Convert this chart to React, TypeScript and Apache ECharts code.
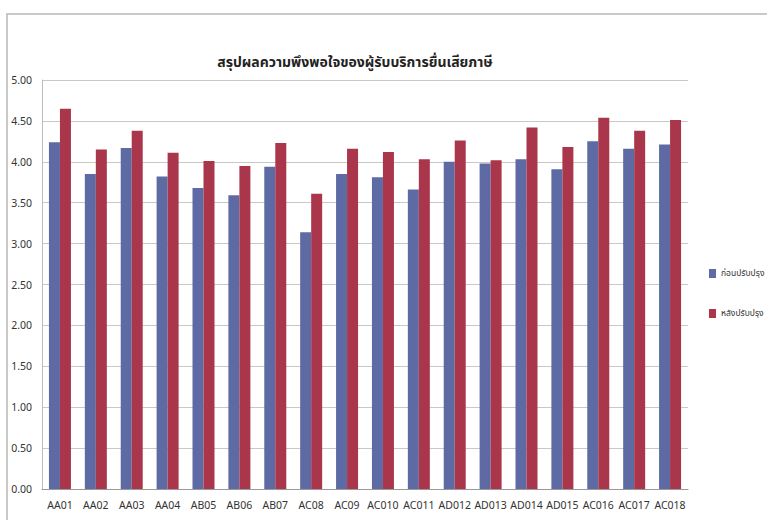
import React, { useEffect, useRef } from "react";
import * as echarts from "echarts";

const categories = ["AA01","AA02","AA03","AA04","AB05","AB06","AB07","AC08","AC09","AC010","AC011","AD012","AD013","AD014","AD015","AC016","AC017","AC018"];
const before = [4.24,3.85,4.17,3.82,3.68,3.59,3.94,3.14,3.85,3.81,3.66,4.00,3.98,4.03,3.91,4.25,4.16,4.21];
const after = [4.65,4.15,4.38,4.11,4.01,3.95,4.23,3.61,4.16,4.12,4.03,4.26,4.02,4.42,4.18,4.54,4.38,4.51];
const seriesNames = ["ก่อนปรับปรุง", "หลังปรับปรุง"];
const title = "สรุปผลความพึงพอใจของผู้รับบริการยื่นเสียภาษี";

const narrow = "'Liberation Sans Narrow', 'Arial Narrow', 'Noto Sans', sans-serif";

export default function App() {
  const ref = useRef<HTMLDivElement>(null);
  useEffect(() => {
    if (!ref.current) return;
    const chart = echarts.init(ref.current, null, { renderer: "svg" });
    chart.setOption({
      animation: false,
      backgroundColor: "#ffffff",
      title: {
        text: title,
        left: 350,
        top: 50,
        textAlign: "center",
        textStyle: { fontSize: 14, fontWeight: "bold", color: "#222", fontFamily: "'Noto Sans Thai', 'Noto Sans', sans-serif" },
      },
      graphic: [
        {
          type: "rect",
          shape: { x: 7, y: 14, width: 800, height: 560 },
          style: { fill: "none", stroke: "#b8b8b8", lineWidth: 1.5 },
          silent: true,
        },
      ],
      legend: {
        orient: "vertical",
        left: 704,
        top: 264,
        itemWidth: 7,
        itemHeight: 9,
        itemGap: 31,
        itemStyle: { borderWidth: 0 },
        icon: "rect",
        textStyle: { fontSize: 8.5, color: "#333", fontFamily: "'Noto Sans Thai', 'Noto Sans', sans-serif" },
        data: seriesNames,
      },
      grid: { left: 42, right: 79, top: 80, bottom: 31, containLabel: false },
      xAxis: {
        type: "category",
        data: categories,
        axisLine: { lineStyle: { color: "#999" } },
        axisTick: { show: false },
        axisLabel: { interval: 0, fontSize: 10.5, color: "#333", margin: 10, fontFamily: narrow },
      },
      yAxis: {
        type: "value",
        min: 0,
        max: 5,
        interval: 0.5,
        axisLine: { show: true, lineStyle: { color: "#bbb" } },
        axisTick: { show: false },
        splitLine: { lineStyle: { color: "#c8c8c8" } },
        axisLabel: {
          fontSize: 10.5,
          color: "#333",
          margin: 10,
          fontFamily: narrow,
          formatter: (v: number) => v.toFixed(2),
        },
      },
      series: [
        {
          name: seriesNames[0],
          type: "bar",
          data: before,
          barWidth: 11,
          barGap: "0%",
          itemStyle: { color: "#5e6aa3" },
        },
        {
          name: seriesNames[1],
          type: "bar",
          data: after,
          barWidth: 11,
          barGap: "0%",
          itemStyle: { color: "#aa364b" },
        },
      ],
    });
    return () => chart.dispose();
  }, []);
  return <div ref={ref} style={{ position: "fixed", left: 0, top: 0, width: 767, height: 520 }} />;
}
